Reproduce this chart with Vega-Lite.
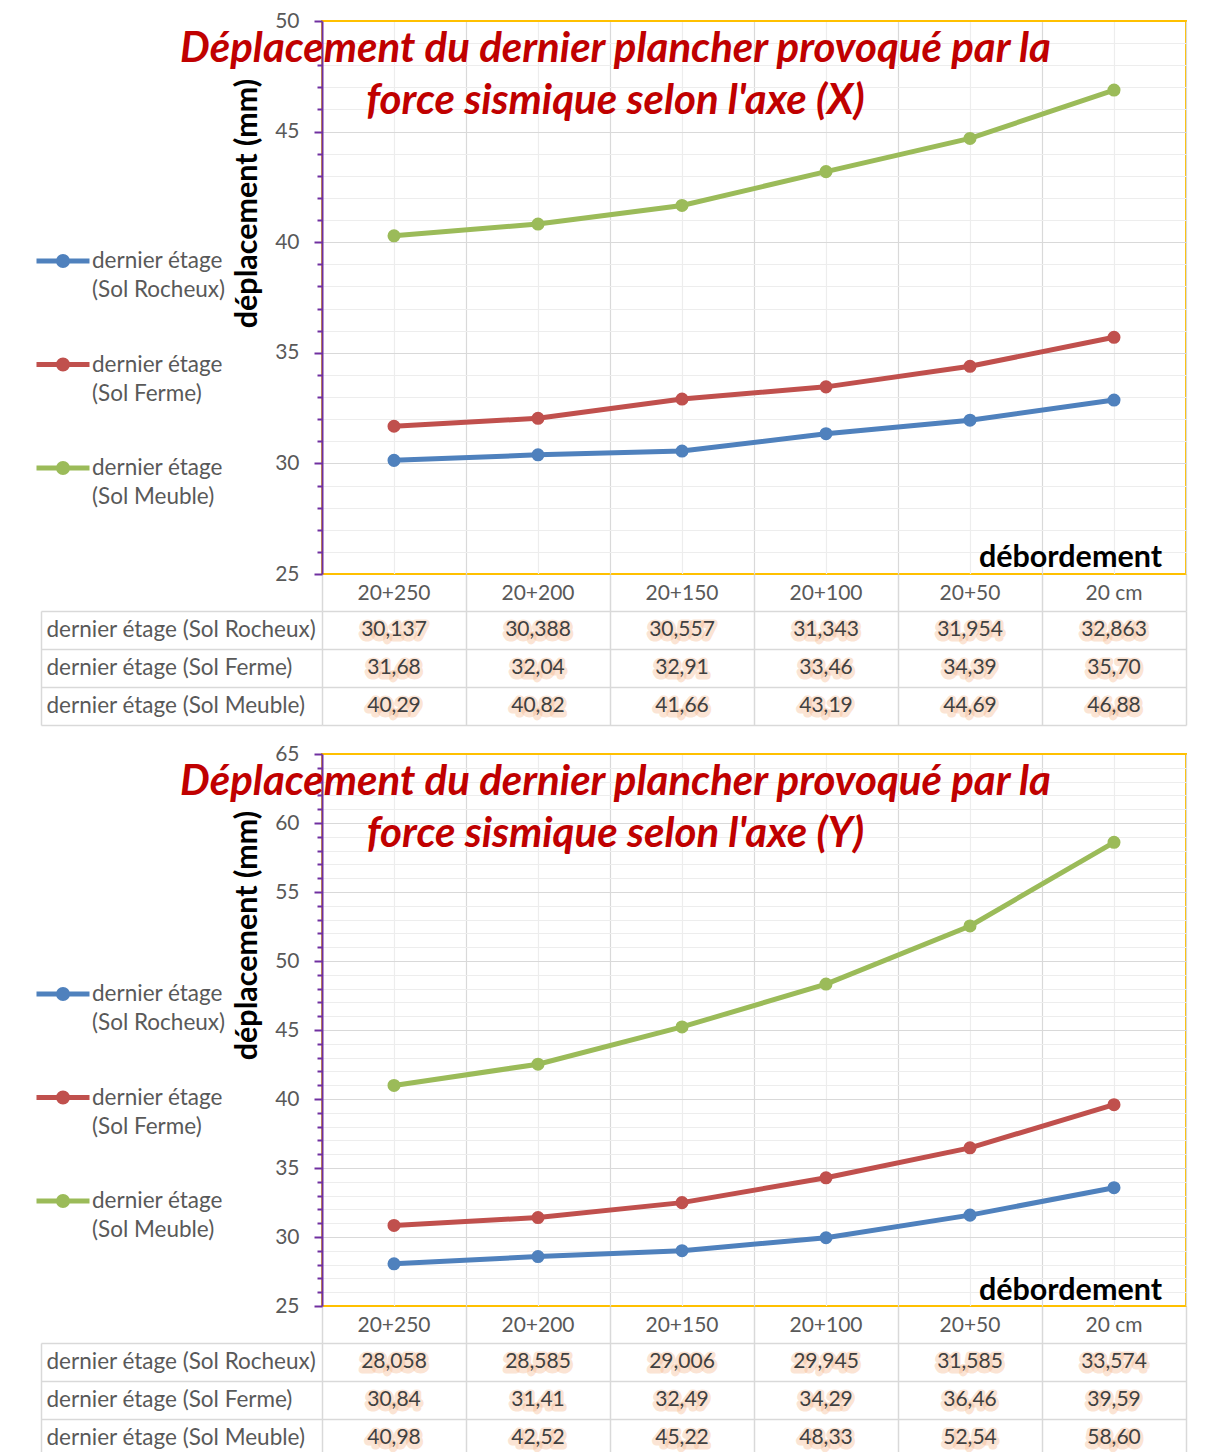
{
  "$schema": "https://vega.github.io/schema/vega-lite/v6.json",
  "background": "white",
  "padding": {"left": 33, "top": 9, "right": 0, "bottom": 0},
  "config": {
    "locale": {"number": {"decimal": ",", "thousands": "\u00a0", "grouping": [3], "currency": ["", "\u00a0€"]}},
    "font": "Lato",
    "axis": {"labelFont": "Lato", "titleFont": "Lato"},
    "legend": {"labelFont": "Lato"}
  },
  "datasets": {
    "axeX": [
      {"deb": "20+250", "sol": "dernier étage (Sol Rocheux)", "val": 30.137},
      {"deb": "20+200", "sol": "dernier étage (Sol Rocheux)", "val": 30.388},
      {"deb": "20+150", "sol": "dernier étage (Sol Rocheux)", "val": 30.557},
      {"deb": "20+100", "sol": "dernier étage (Sol Rocheux)", "val": 31.343},
      {"deb": "20+50", "sol": "dernier étage (Sol Rocheux)", "val": 31.954},
      {"deb": "20 cm", "sol": "dernier étage (Sol Rocheux)", "val": 32.863},
      {"deb": "20+250", "sol": "dernier étage (Sol Ferme)", "val": 31.68},
      {"deb": "20+200", "sol": "dernier étage (Sol Ferme)", "val": 32.04},
      {"deb": "20+150", "sol": "dernier étage (Sol Ferme)", "val": 32.91},
      {"deb": "20+100", "sol": "dernier étage (Sol Ferme)", "val": 33.46},
      {"deb": "20+50", "sol": "dernier étage (Sol Ferme)", "val": 34.39},
      {"deb": "20 cm", "sol": "dernier étage (Sol Ferme)", "val": 35.70},
      {"deb": "20+250", "sol": "dernier étage (Sol Meuble)", "val": 40.29},
      {"deb": "20+200", "sol": "dernier étage (Sol Meuble)", "val": 40.82},
      {"deb": "20+150", "sol": "dernier étage (Sol Meuble)", "val": 41.66},
      {"deb": "20+100", "sol": "dernier étage (Sol Meuble)", "val": 43.19},
      {"deb": "20+50", "sol": "dernier étage (Sol Meuble)", "val": 44.69},
      {"deb": "20 cm", "sol": "dernier étage (Sol Meuble)", "val": 46.88}
    ],
    "axeY": [
      {"deb": "20+250", "sol": "dernier étage (Sol Rocheux)", "val": 28.058},
      {"deb": "20+200", "sol": "dernier étage (Sol Rocheux)", "val": 28.585},
      {"deb": "20+150", "sol": "dernier étage (Sol Rocheux)", "val": 29.006},
      {"deb": "20+100", "sol": "dernier étage (Sol Rocheux)", "val": 29.945},
      {"deb": "20+50", "sol": "dernier étage (Sol Rocheux)", "val": 31.585},
      {"deb": "20 cm", "sol": "dernier étage (Sol Rocheux)", "val": 33.574},
      {"deb": "20+250", "sol": "dernier étage (Sol Ferme)", "val": 30.84},
      {"deb": "20+200", "sol": "dernier étage (Sol Ferme)", "val": 31.41},
      {"deb": "20+150", "sol": "dernier étage (Sol Ferme)", "val": 32.49},
      {"deb": "20+100", "sol": "dernier étage (Sol Ferme)", "val": 34.29},
      {"deb": "20+50", "sol": "dernier étage (Sol Ferme)", "val": 36.46},
      {"deb": "20 cm", "sol": "dernier étage (Sol Ferme)", "val": 39.59},
      {"deb": "20+250", "sol": "dernier étage (Sol Meuble)", "val": 40.98},
      {"deb": "20+200", "sol": "dernier étage (Sol Meuble)", "val": 42.52},
      {"deb": "20+150", "sol": "dernier étage (Sol Meuble)", "val": 45.22},
      {"deb": "20+100", "sol": "dernier étage (Sol Meuble)", "val": 48.33},
      {"deb": "20+50", "sol": "dernier étage (Sol Meuble)", "val": 52.54},
      {"deb": "20 cm", "sol": "dernier étage (Sol Meuble)", "val": 58.60}
    ]
  },
  "spacing": 16,
  "bounds": "full",
  "resolve": {"scale": {"x": "independent", "y": "independent", "color": "independent"}, "legend": {"color": "independent"}},
  "vconcat": [
    {
      "spacing": 37,
      "bounds": "flush",
      "resolve": {"scale": {"x": "independent", "y": "independent", "color": "independent"}, "legend": {"color": "independent"}},
      "vconcat": [
        {
          "width": 864,
          "height": 553,
          "data": {"name": "axeX"},
          "view": {"stroke": "#FFC000", "strokeWidth": 2},
          "resolve": {"axis": {"x": "independent", "y": "independent"}},
          "layer": [
            {
              "mark": {"type": "line", "strokeWidth": 5},
              "encoding": {
                "x": {"field": "deb", "type": "ordinal", "sort": ["20+250", "20+200", "20+150", "20+100", "20+50", "20 cm"], "bandPosition": 0.5,
                  "scale": {"type": "band", "paddingInner": 0, "paddingOuter": 0},
                  "axis": {"orient": "bottom", "tickBand": "extent", "tickSize": 37, "tickColor": "#D9D9D9", "tickWidth": 1.5,
                    "grid": true, "gridColor": "#D9D9D9", "gridWidth": 1.2, "domain": false,
                    "labelAngle": 0, "labelPadding": -29, "labelFontSize": 21, "labelColor": "white", "labelOverlap": false,
                    "title": "débordement", "titleX": 748, "titleY": -17, "titleFontSize": 30.5, "titleFontWeight": "bold", "titleColor": "white",
                    "titleAlign": "center", "titleBaseline": "middle",
                    "encode": {
                      "labels": {"update": {"stroke": {"value": "#F4B183"}, "strokeWidth": {"value": 7}, "strokeOpacity": {"value": 0.35}, "strokeJoin": {"value": "round"}, "dy": {"value": 2}}},
                      "title": {"update": {"stroke": {"value": "white"}, "strokeWidth": {"value": 22}, "strokeJoin": {"value": "round"}}}
                    }}},
                "y": {"field": "val", "type": "quantitative",
                  "scale": {"domain": [25, 50], "nice": false, "zero": false},
                  "axis": {"orient": "left", "values": [25, 30, 35, 40, 45, 50],
                    "labelFontSize": 21, "labelColor": "#595959", "labelPadding": 15, "labelFlush": false, "labelOverlap": false,
                    "tickSize": 8, "tickColor": "#7030A0", "tickWidth": 2, "domainColor": "#7030A0", "domainWidth": 2,
                    "grid": true, "gridColor": {"condition": {"test": "datum.value === 50 || datum.value === 25", "value": "#FFC000"}, "value": "#D9D9D9"}, "gridWidth": 1.2,
                    "title": "déplacement (mm)", "titleFontSize": 30.5, "titleFontWeight": "bold", "titleColor": "black",
                    "titleX": -75, "titleY": 182, "titleAngle": -90, "titleAlign": "center", "titleBaseline": "middle"}},
                "color": {"field": "sol", "type": "nominal",
                  "scale": {"domain": ["dernier étage (Sol Rocheux)", "dernier étage (Sol Ferme)", "dernier étage (Sol Meuble)"], "range": ["#4F81BD", "#C0504D", "#9BBB59"]},
                  "legend": {"orient": "none", "legendX": -288, "legendY": 211, "title": null, "padding": 0,
                    "symbolType": "M-1,0L1,0M0.094,0A0.094,0.094,0,1,1,-0.094,0A0.094,0.094,0,1,1,0.094,0M0.17,0A0.17,0.17,0,1,1,-0.17,0A0.17,0.17,0,1,1,0.17,0",
                    "symbolSize": 2809, "symbolStrokeWidth": 5,
                    "labelFontSize": 22.5, "labelColor": "#595959", "labelOffset": 0, "labelLimit": 0, "rowPadding": 33.5,
                    "labelExpr": "split(replace(datum.label, ' (', '|('), '|')",
                    "encode": {"labels": {"update": {"lineHeight": {"value": 29}, "dy": {"value": 0}}}}}}
              }
            },
            {
              "mark": {"type": "point", "filled": true, "size": 170, "opacity": 1},
              "encoding": {
                "x": {"field": "deb", "type": "ordinal", "sort": ["20+250", "20+200", "20+150", "20+100", "20+50", "20 cm"], "bandPosition": 0.5,
                  "scale": {"type": "band", "paddingInner": 0, "paddingOuter": 0},
                  "axis": {"orient": "bottom", "grid": true, "gridColor": "#EDEDED", "gridWidth": 1.2, "ticks": false, "tickSize": 0, "domain": false,
                    "labelAngle": 0, "labelPadding": 8, "labelFontSize": 21, "labelColor": "#595959", "labelOverlap": false,
                    "title": "débordement", "titleX": 748, "titleY": -17, "titleFontSize": 30.5, "titleFontWeight": "bold", "titleColor": "black",
                    "titleAlign": "center", "titleBaseline": "middle"}},
                "y": {"field": "val", "type": "quantitative",
                  "scale": {"domain": [25, 50], "nice": false, "zero": false},
                  "axis": {"orient": "left", "values": [26, 27, 28, 29, 31, 32, 33, 34, 36, 37, 38, 39, 41, 42, 43, 44, 46, 47, 48, 49],
                    "labels": false, "domain": false, "tickSize": 5, "tickColor": "#7030A0", "tickWidth": 2,
                    "grid": true, "gridColor": "#EDEDED", "gridWidth": 1.2,
                    "title": ["Déplacement du dernier plancher provoqué par la", "force sismique selon l'axe (X)"],
                    "titleX": 293, "titleY": 40, "titleAngle": 0, "titleAlign": "center", "titleBaseline": "alphabetic",
                    "titleFontSize": 42, "titleFontStyle": "italic", "titleFontWeight": "bold", "titleColor": "#C00000", "titleLineHeight": 52}},
                "color": {"field": "sol", "type": "nominal",
                  "scale": {"domain": ["dernier étage (Sol Rocheux)", "dernier étage (Sol Ferme)", "dernier étage (Sol Meuble)"], "range": ["#4F81BD", "#C0504D", "#9BBB59"]},
                  "legend": null}
              }
            }
          ]
        },
        {
          "width": 864,
          "height": 114,
          "data": {"name": "axeX"},
          "view": {"stroke": null},
          "resolve": {"axis": {"x": "independent", "y": "independent"}},
          "layer": [
            {
              "transform": [{"filter": "datum.sol === 'dernier étage (Sol Rocheux)'"}],
              "mark": {"type": "text", "font": "Lato", "fontSize": 21, "fill": "white", "stroke": "#F4B183", "strokeWidth": 7, "strokeOpacity": 0.35, "strokeJoin": "round", "dy": 2},
              "encoding": {
                "x": {"field": "deb", "type": "ordinal", "sort": ["20+250", "20+200", "20+150", "20+100", "20+50", "20 cm"], "bandPosition": 0.5,
                  "scale": {"type": "band", "paddingInner": 0, "paddingOuter": 0},
                  "axis": {"orient": "top", "labels": false, "ticks": false, "domain": false, "grid": true, "tickBand": "extent", "gridColor": "#D9D9D9", "gridWidth": 1.5, "title": null}},
                "y": {"field": "sol", "type": "nominal", "sort": ["dernier étage (Sol Rocheux)", "dernier étage (Sol Ferme)", "dernier étage (Sol Meuble)"], "bandPosition": 0.5,
                  "scale": {"type": "band", "paddingInner": 0, "paddingOuter": 0, "domain": ["dernier étage (Sol Rocheux)", "dernier étage (Sol Ferme)", "dernier étage (Sol Meuble)"]},
                  "axis": {"orient": "left", "grid": true, "tickBand": "extent", "gridColor": "#D9D9D9", "gridWidth": 1.5,
                    "ticks": true, "tickSize": 281, "tickColor": "#D9D9D9", "tickWidth": 1.5, "domain": false,
                    "labelAlign": "left", "labelPadding": -5, "labelFontSize": 22.5, "labelColor": "white", "labelLimit": 0,
                    "encode": {"labels": {"update": {"stroke": {"value": "#F4B183"}, "strokeWidth": {"value": 7}, "strokeOpacity": {"value": 0.35}, "strokeJoin": {"value": "round"}, "dy": {"value": 2}}}},
                    "title": null}},
                "text": {"field": "val", "type": "quantitative", "format": ".3f"}
              }
            },
            {
              "transform": [{"filter": "datum.sol !== 'dernier étage (Sol Rocheux)'"}],
              "mark": {"type": "text", "font": "Lato", "fontSize": 21, "fill": "white", "stroke": "#F4B183", "strokeWidth": 7, "strokeOpacity": 0.35, "strokeJoin": "round", "dy": 2},
              "encoding": {
                "x": {"field": "deb", "type": "ordinal", "sort": ["20+250", "20+200", "20+150", "20+100", "20+50", "20 cm"], "bandPosition": 0.5,
                  "scale": {"type": "band", "paddingInner": 0, "paddingOuter": 0}, "axis": null},
                "y": {"field": "sol", "type": "nominal", "bandPosition": 0.5, "axis": null},
                "text": {"field": "val", "type": "quantitative", "format": ".2f"}
              }
            },
            {
              "transform": [{"filter": "datum.sol === 'dernier étage (Sol Rocheux)'"}],
              "mark": {"type": "text", "font": "Lato", "fontSize": 21, "color": "#404040"},
              "encoding": {
                "x": {"field": "deb", "type": "ordinal", "sort": ["20+250", "20+200", "20+150", "20+100", "20+50", "20 cm"], "bandPosition": 0.5,
                  "scale": {"type": "band", "paddingInner": 0, "paddingOuter": 0}, "axis": null},
                "y": {"field": "sol", "type": "nominal", "bandPosition": 0.5,
                  "axis": {"orient": "left", "offset": 281, "grid": false, "ticks": false, "tickSize": 0, "domain": true, "domainColor": "#D9D9D9", "domainWidth": 1.5,
                    "labelAlign": "left", "labelPadding": -5, "labelFontSize": 22.5, "labelColor": "#595959", "labelLimit": 0, "title": null}},
                "text": {"field": "val", "type": "quantitative", "format": ".3f"}
              }
            },
            {
              "transform": [{"filter": "datum.sol !== 'dernier étage (Sol Rocheux)'"}],
              "mark": {"type": "text", "font": "Lato", "fontSize": 21, "color": "#404040"},
              "encoding": {
                "x": {"field": "deb", "type": "ordinal", "sort": ["20+250", "20+200", "20+150", "20+100", "20+50", "20 cm"], "bandPosition": 0.5,
                  "scale": {"type": "band", "paddingInner": 0, "paddingOuter": 0}, "axis": null},
                "y": {"field": "sol", "type": "nominal", "bandPosition": 0.5, "axis": null},
                "text": {"field": "val", "type": "quantitative", "format": ".2f"}
              }
            }
          ]
        }
      ]
    },
    {
      "spacing": 37,
      "bounds": "flush",
      "resolve": {"scale": {"x": "independent", "y": "independent", "color": "independent"}, "legend": {"color": "independent"}},
      "vconcat": [
        {
          "width": 864,
          "height": 552,
          "data": {"name": "axeY"},
          "view": {"stroke": "#FFC000", "strokeWidth": 2},
          "resolve": {"axis": {"x": "independent", "y": "independent"}},
          "layer": [
            {
              "mark": {"type": "line", "strokeWidth": 5},
              "encoding": {
                "x": {"field": "deb", "type": "ordinal", "sort": ["20+250", "20+200", "20+150", "20+100", "20+50", "20 cm"], "bandPosition": 0.5,
                  "scale": {"type": "band", "paddingInner": 0, "paddingOuter": 0},
                  "axis": {"orient": "bottom", "tickBand": "extent", "tickSize": 37, "tickColor": "#D9D9D9", "tickWidth": 1.5,
                    "grid": true, "gridColor": "#D9D9D9", "gridWidth": 1.2, "domain": false,
                    "labelAngle": 0, "labelPadding": -29, "labelFontSize": 21, "labelColor": "white", "labelOverlap": false,
                    "title": "débordement", "titleX": 748, "titleY": -16, "titleFontSize": 30.5, "titleFontWeight": "bold", "titleColor": "white",
                    "titleAlign": "center", "titleBaseline": "middle",
                    "encode": {
                      "labels": {"update": {"stroke": {"value": "#F4B183"}, "strokeWidth": {"value": 7}, "strokeOpacity": {"value": 0.35}, "strokeJoin": {"value": "round"}, "dy": {"value": 2}}},
                      "title": {"update": {"stroke": {"value": "white"}, "strokeWidth": {"value": 22}, "strokeJoin": {"value": "round"}}}
                    }}},
                "y": {"field": "val", "type": "quantitative",
                  "scale": {"domain": [25, 65], "nice": false, "zero": false},
                  "axis": {"orient": "left", "values": [25, 30, 35, 40, 45, 50, 55, 60, 65],
                    "labelFontSize": 21, "labelColor": "#595959", "labelPadding": 15, "labelFlush": false, "labelOverlap": false,
                    "tickSize": 8, "tickColor": "#7030A0", "tickWidth": 2, "domainColor": "#7030A0", "domainWidth": 2,
                    "grid": true, "gridColor": {"condition": {"test": "datum.value === 65 || datum.value === 25", "value": "#FFC000"}, "value": "#D9D9D9"}, "gridWidth": 1.2,
                    "title": "déplacement (mm)", "titleFontSize": 30.5, "titleFontWeight": "bold", "titleColor": "black",
                    "titleX": -75, "titleY": 181, "titleAngle": -90, "titleAlign": "center", "titleBaseline": "middle"}},
                "color": {"field": "sol", "type": "nominal",
                  "scale": {"domain": ["dernier étage (Sol Rocheux)", "dernier étage (Sol Ferme)", "dernier étage (Sol Meuble)"], "range": ["#4F81BD", "#C0504D", "#9BBB59"]},
                  "legend": {"orient": "none", "legendX": -288, "legendY": 211, "title": null, "padding": 0,
                    "symbolType": "M-1,0L1,0M0.094,0A0.094,0.094,0,1,1,-0.094,0A0.094,0.094,0,1,1,0.094,0M0.17,0A0.17,0.17,0,1,1,-0.17,0A0.17,0.17,0,1,1,0.17,0",
                    "symbolSize": 2809, "symbolStrokeWidth": 5,
                    "labelFontSize": 22.5, "labelColor": "#595959", "labelOffset": 0, "labelLimit": 0, "rowPadding": 33.5,
                    "labelExpr": "split(replace(datum.label, ' (', '|('), '|')",
                    "encode": {"labels": {"update": {"lineHeight": {"value": 29}, "dy": {"value": 0}}}}}}
              }
            },
            {
              "mark": {"type": "point", "filled": true, "size": 170, "opacity": 1},
              "encoding": {
                "x": {"field": "deb", "type": "ordinal", "sort": ["20+250", "20+200", "20+150", "20+100", "20+50", "20 cm"], "bandPosition": 0.5,
                  "scale": {"type": "band", "paddingInner": 0, "paddingOuter": 0},
                  "axis": {"orient": "bottom", "grid": true, "gridColor": "#EDEDED", "gridWidth": 1.2, "ticks": false, "tickSize": 0, "domain": false,
                    "labelAngle": 0, "labelPadding": 8, "labelFontSize": 21, "labelColor": "#595959", "labelOverlap": false,
                    "title": "débordement", "titleX": 748, "titleY": -16, "titleFontSize": 30.5, "titleFontWeight": "bold", "titleColor": "black",
                    "titleAlign": "center", "titleBaseline": "middle"}},
                "y": {"field": "val", "type": "quantitative",
                  "scale": {"domain": [25, 65], "nice": false, "zero": false},
                  "axis": {"orient": "left", "values": [26, 27, 28, 29, 31, 32, 33, 34, 36, 37, 38, 39, 41, 42, 43, 44, 46, 47, 48, 49, 51, 52, 53, 54, 56, 57, 58, 59, 61, 62, 63, 64],
                    "labels": false, "domain": false, "tickSize": 5, "tickColor": "#7030A0", "tickWidth": 2,
                    "grid": true, "gridColor": "#EDEDED", "gridWidth": 1.2,
                    "title": ["Déplacement du dernier plancher provoqué par la", "force sismique selon l'axe (Y)"],
                    "titleX": 293, "titleY": 40, "titleAngle": 0, "titleAlign": "center", "titleBaseline": "alphabetic",
                    "titleFontSize": 42, "titleFontStyle": "italic", "titleFontWeight": "bold", "titleColor": "#C00000", "titleLineHeight": 52}},
                "color": {"field": "sol", "type": "nominal",
                  "scale": {"domain": ["dernier étage (Sol Rocheux)", "dernier étage (Sol Ferme)", "dernier étage (Sol Meuble)"], "range": ["#4F81BD", "#C0504D", "#9BBB59"]},
                  "legend": null}
              }
            }
          ]
        },
        {
          "width": 864,
          "height": 114,
          "data": {"name": "axeY"},
          "view": {"stroke": null},
          "resolve": {"axis": {"x": "independent", "y": "independent"}},
          "layer": [
            {
              "transform": [{"filter": "datum.sol === 'dernier étage (Sol Rocheux)'"}],
              "mark": {"type": "text", "font": "Lato", "fontSize": 21, "fill": "white", "stroke": "#F4B183", "strokeWidth": 7, "strokeOpacity": 0.35, "strokeJoin": "round", "dy": 2},
              "encoding": {
                "x": {"field": "deb", "type": "ordinal", "sort": ["20+250", "20+200", "20+150", "20+100", "20+50", "20 cm"], "bandPosition": 0.5,
                  "scale": {"type": "band", "paddingInner": 0, "paddingOuter": 0},
                  "axis": {"orient": "top", "labels": false, "ticks": false, "domain": false, "grid": true, "tickBand": "extent", "gridColor": "#D9D9D9", "gridWidth": 1.5, "title": null}},
                "y": {"field": "sol", "type": "nominal", "sort": ["dernier étage (Sol Rocheux)", "dernier étage (Sol Ferme)", "dernier étage (Sol Meuble)"], "bandPosition": 0.5,
                  "scale": {"type": "band", "paddingInner": 0, "paddingOuter": 0, "domain": ["dernier étage (Sol Rocheux)", "dernier étage (Sol Ferme)", "dernier étage (Sol Meuble)"]},
                  "axis": {"orient": "left", "grid": true, "tickBand": "extent", "gridColor": "#D9D9D9", "gridWidth": 1.5,
                    "ticks": true, "tickSize": 281, "tickColor": "#D9D9D9", "tickWidth": 1.5, "domain": false,
                    "labelAlign": "left", "labelPadding": -5, "labelFontSize": 22.5, "labelColor": "white", "labelLimit": 0,
                    "encode": {"labels": {"update": {"stroke": {"value": "#F4B183"}, "strokeWidth": {"value": 7}, "strokeOpacity": {"value": 0.35}, "strokeJoin": {"value": "round"}, "dy": {"value": 2}}}},
                    "title": null}},
                "text": {"field": "val", "type": "quantitative", "format": ".3f"}
              }
            },
            {
              "transform": [{"filter": "datum.sol !== 'dernier étage (Sol Rocheux)'"}],
              "mark": {"type": "text", "font": "Lato", "fontSize": 21, "fill": "white", "stroke": "#F4B183", "strokeWidth": 7, "strokeOpacity": 0.35, "strokeJoin": "round", "dy": 2},
              "encoding": {
                "x": {"field": "deb", "type": "ordinal", "sort": ["20+250", "20+200", "20+150", "20+100", "20+50", "20 cm"], "bandPosition": 0.5,
                  "scale": {"type": "band", "paddingInner": 0, "paddingOuter": 0}, "axis": null},
                "y": {"field": "sol", "type": "nominal", "bandPosition": 0.5, "axis": null},
                "text": {"field": "val", "type": "quantitative", "format": ".2f"}
              }
            },
            {
              "transform": [{"filter": "datum.sol === 'dernier étage (Sol Rocheux)'"}],
              "mark": {"type": "text", "font": "Lato", "fontSize": 21, "color": "#404040"},
              "encoding": {
                "x": {"field": "deb", "type": "ordinal", "sort": ["20+250", "20+200", "20+150", "20+100", "20+50", "20 cm"], "bandPosition": 0.5,
                  "scale": {"type": "band", "paddingInner": 0, "paddingOuter": 0}, "axis": null},
                "y": {"field": "sol", "type": "nominal", "bandPosition": 0.5,
                  "axis": {"orient": "left", "offset": 281, "grid": false, "ticks": false, "tickSize": 0, "domain": true, "domainColor": "#D9D9D9", "domainWidth": 1.5,
                    "labelAlign": "left", "labelPadding": -5, "labelFontSize": 22.5, "labelColor": "#595959", "labelLimit": 0, "title": null}},
                "text": {"field": "val", "type": "quantitative", "format": ".3f"}
              }
            },
            {
              "transform": [{"filter": "datum.sol !== 'dernier étage (Sol Rocheux)'"}],
              "mark": {"type": "text", "font": "Lato", "fontSize": 21, "color": "#404040"},
              "encoding": {
                "x": {"field": "deb", "type": "ordinal", "sort": ["20+250", "20+200", "20+150", "20+100", "20+50", "20 cm"], "bandPosition": 0.5,
                  "scale": {"type": "band", "paddingInner": 0, "paddingOuter": 0}, "axis": null},
                "y": {"field": "sol", "type": "nominal", "bandPosition": 0.5, "axis": null},
                "text": {"field": "val", "type": "quantitative", "format": ".2f"}
              }
            }
          ]
        }
      ]
    }
  ]
}
